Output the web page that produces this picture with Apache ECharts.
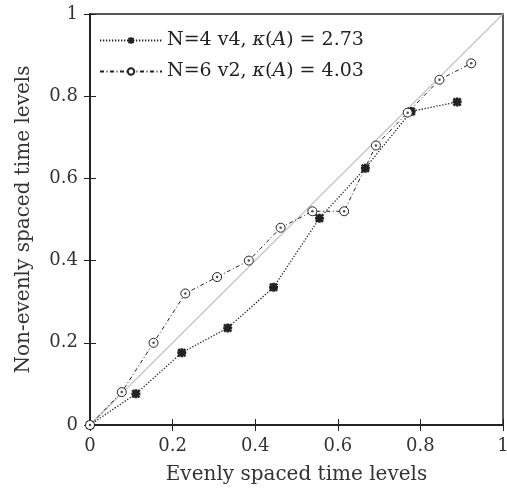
<!DOCTYPE html>
<html><head><meta charset="utf-8">
<script src="https://cdn.jsdelivr.net/npm/echarts@6/dist/echarts.min.js"></script>
<style>html,body{margin:0;padding:0;background:#fff}#c{width:507px;height:497px}</style>
</head><body><div id="c"></div>
<script>
var xN4 = [0, 1/9, 2/9, 3/9, 4/9, 5/9, 6/9, 7/9, 8/9];
var yN4 = [0, 0.076, 0.176, 0.236, 0.335, 0.503, 0.625, 0.763, 0.786];
var xN6 = [0, 1/13, 2/13, 3/13, 4/13, 5/13, 6/13, 7/13, 8/13, 9/13, 10/13, 11/13, 12/13];
var yN6 = [0, 0.08, 0.20, 0.32, 0.36, 0.40, 0.48, 0.52, 0.52, 0.68, 0.76, 0.84, 0.88];
var diagX = [0, 1];
var diagY = [0, 1];
var tickLabels = ['0', '0.2', '0.4', '0.6', '0.8', '1'];
var seriesNames = ['N=4 v4', 'N=6 v2'];
var kappas = ['2.73', '4.03'];
var xTitle = 'Evenly spaced time levels';
var yTitle = 'Non-evenly spaced time levels';

function zip(a, b) { return a.map(function (v, i) { return [v, b[i]]; }); }
var FONT = 'DejaVu Serif';
var starPath = 'path://M0,7L20,7L20,13L0,13Z M7,0L13,0L13,20L7,20Z M0,4L4,0L20,16L16,20Z M16,0L20,4L4,20L0,16Z';
function fmt(v) { return tickLabels[Math.round(v / 0.2)]; }

var chart = echarts.init(document.getElementById('c'), null, {renderer: 'canvas'});
var axisCommon = {
  type: 'value', min: 0, max: 1, interval: 0.2,
  axisLine: {show: true, lineStyle: {color: '#222', width: 1.5}},
  axisTick: {show: true, inside: true, length: 6, lineStyle: {color: '#222', width: 1}},
  splitLine: {show: false}
};
chart.setOption({
  animation: false,
  grid: {left: 90, right: 4, top: 14, bottom: 72, show: true, borderColor: '#222', borderWidth: 1.5,
         outerBoundsMode: 'none', containLabel: false},
  xAxis: [
    Object.assign({}, axisCommon, {position: 'bottom', name: xTitle, nameLocation: 'middle', nameGap: 40,
      nameTextStyle: {fontFamily: FONT, fontSize: 20, color: '#333'},
      axisLabel: {formatter: fmt, fontFamily: FONT, fontSize: 18, color: '#333', margin: 12}}),
    Object.assign({}, axisCommon, {position: 'top', axisLabel: {show: false}})
  ],
  yAxis: [
    Object.assign({}, axisCommon, {position: 'left', name: yTitle, nameLocation: 'middle', nameGap: 56,
      nameTextStyle: {fontFamily: FONT, fontSize: 20, color: '#333'},
      axisLabel: {formatter: fmt, fontFamily: FONT, fontSize: 18, color: '#333', margin: 12}}),
    Object.assign({}, axisCommon, {position: 'right', axisLabel: {show: false}})
  ],
  legend: {
    data: seriesNames, orient: 'vertical', left: 94, top: 26, itemWidth: 62, itemHeight: 8, itemGap: 12,
    formatter: function (name) {
      var k = kappas[seriesNames.indexOf(name)];
      return name + ', {i|κ}({i|A}) = ' + k;
    },
    textStyle: {fontFamily: FONT, fontSize: 19, color: '#222',
      rich: {i: {fontFamily: FONT, fontSize: 19, fontStyle: 'italic', color: '#222'}}}
  },
  series: [
    {type: 'line', name: 'diag', data: zip(diagX, diagY), showSymbol: false, silent: true,
     lineStyle: {color: '#c4c4c4', width: 1.2}, z: 1},
    {type: 'line', name: seriesNames[0], data: zip(xN4, yN4), symbol: starPath, symbolSize: 9,
     itemStyle: {color: '#222'}, lineStyle: {color: '#222', width: 1.3, type: [1.3, 1.7]}, z: 3},
    {type: 'line', name: seriesNames[1], data: zip(xN6, yN6), symbol: 'circle', symbolSize: 9,
     itemStyle: {color: '#fff', borderColor: '#222', borderWidth: 1},
     lineStyle: {color: '#222', width: 1, type: [4, 2.5, 1, 2.5]}, z: 4},
    {type: 'scatter', name: 'dots', data: zip(xN6, yN6), symbol: 'circle', symbolSize: 2.5, silent: true,
     itemStyle: {color: '#222'}, z: 5}
  ]
});
</script></body></html>
